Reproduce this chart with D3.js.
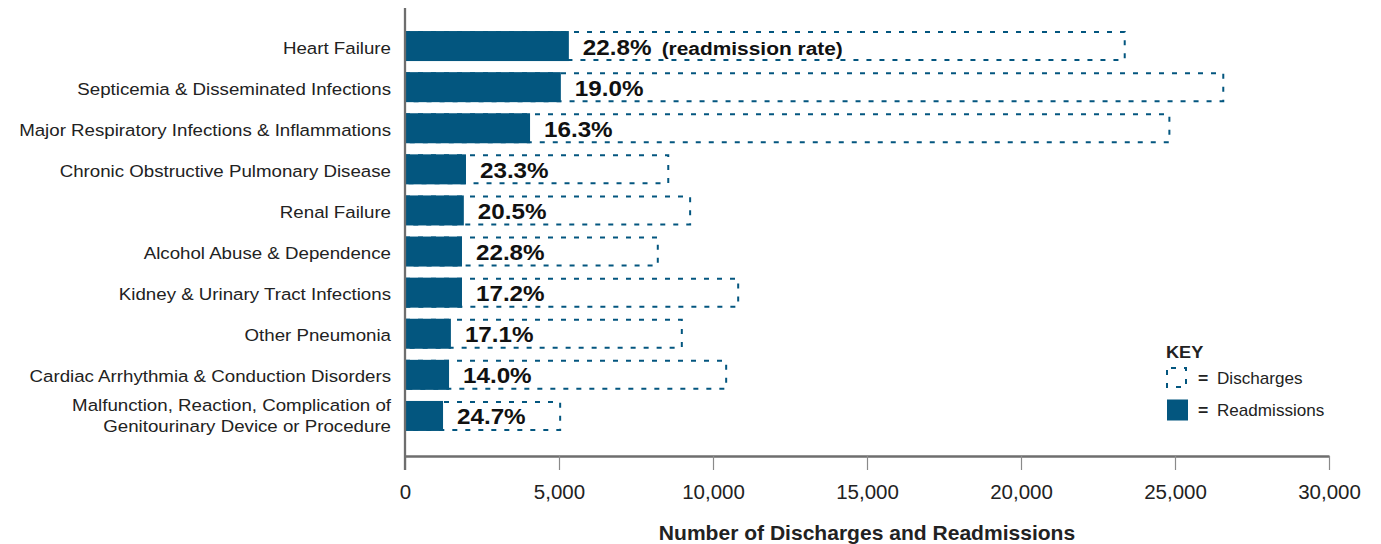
<!DOCTYPE html>
<html>
<head>
<meta charset="utf-8">
<script src="https://cdn.jsdelivr.net/npm/d3@7/dist/d3.min.js"></script>
<style>
  html, body { margin: 0; padding: 0; background: #ffffff; }
  svg { display: block; font-family: "Liberation Sans", Arial, Helvetica, sans-serif; }
</style>
</head>
<body>
<svg id="chart" width="1381" height="544"></svg>
<script>
// ---- data ----
const categories = [
  "Heart Failure",
  "Septicemia & Disseminated Infections",
  "Major Respiratory Infections & Inflammations",
  "Chronic Obstructive Pulmonary Disease",
  "Renal Failure",
  "Alcohol Abuse & Dependence",
  "Kidney & Urinary Tract Infections",
  "Other Pneumonia",
  "Cardiac Arrhythmia & Conduction Disorders",
  "Malfunction, Reaction, Complication of|Genitourinary Device or Procedure"
];
const discharges   = [23400, 26600, 24850, 8580, 9290, 8240, 10850, 9020, 10460, 5070];
const readmissions = [5320, 5060, 4060, 1980, 1910, 1850, 1850, 1490, 1430, 1235];
const rates        = ["22.8%", "19.0%", "16.3%", "23.3%", "20.5%", "22.8%", "17.2%", "17.1%", "14.0%", "24.7%"];
const rateNote     = "(readmission rate)";
const xTicks       = [0, 5000, 10000, 15000, 20000, 25000, 30000];
const xTitle       = "Number of Discharges and Readmissions";
const legendTitle  = "KEY";
const legendItems  = ["Discharges", "Readmissions"];

// ---- layout ----
const BLUE = "#03567f";
const AXIS = "#6e6e6e";
const SX = 1.1; // horizontal text stretch

const svg = d3.select("#chart");
const x = d3.scaleLinear().domain([0, 30000]).range([405, 1329]);
const y = d3.scaleBand().domain(categories).range([25.5, 436.5]).paddingInner(0.27).paddingOuter(0.135);
const bw = y.bandwidth();

const rows = categories.map((c, i) => ({ c, d: discharges[i], r: readmissions[i], rate: rates[i], i }));

// discharge boxes (dashed)
svg.append("g").selectAll("rect").data(rows).join("rect")
  .attr("x", x(0))
  .attr("y", d => y(d.c) + 1)
  .attr("width", d => x(d.d) - x(0) - 1)
  .attr("height", bw - 2)
  .attr("fill", "none")
  .attr("stroke", BLUE)
  .attr("stroke-width", 2)
  .attr("stroke-dasharray", "5,8");

// readmission bars
svg.append("g").selectAll("rect").data(rows).join("rect")
  .attr("x", x(0))
  .attr("y", d => y(d.c))
  .attr("width", d => x(d.r) - x(0))
  .attr("height", bw)
  .attr("fill", BLUE);

// rate labels
const lab = svg.append("g").selectAll("text").data(rows).join("text")
  .attr("transform", d => `translate(${x(d.r) + 14},${y(d.c) + bw / 2 + 8.5}) scale(${SX},1)`)
  .attr("font-size", 22)
  .attr("font-weight", "bold")
  .attr("fill", "#111");
lab.append("tspan").text(d => d.rate);
lab.filter(d => d.i === 0).append("tspan")
  .attr("font-size", 19)
  .attr("dx", 4)
  .text(" " + rateNote);

// left category axis
const yAxis = svg.append("g").attr("transform", `translate(${x(0)},0)`)
  .call(d3.axisLeft(y).tickSize(0).tickPadding(0));
yAxis.select(".domain").remove();
yAxis.selectAll(".tick text").each(function(d) {
  const t = d3.select(this);
  const parts = d.split("|");
  t.text(null)
    .attr("x", null).attr("dy", null)
    .attr("text-anchor", "end")
    .attr("font-size", 17)
    .attr("font-family", "'Liberation Sans', Arial, sans-serif")
    .attr("fill", "#222")
    .attr("transform", `translate(-14,0) scale(${SX},1)`);
  if (parts.length === 1) {
    t.append("tspan").attr("x", 0).attr("y", 7.5).text(parts[0]);
  } else {
    t.append("tspan").attr("x", 0).attr("y", -5).text(parts[0]);
    t.append("tspan").attr("x", 0).attr("y", 16).text(parts[1]);
  }
});

// bottom axis
const xAxis = svg.append("g").attr("transform", "translate(0,456)")
  .call(d3.axisBottom(x).tickValues(xTicks).tickSize(14).tickSizeOuter(0).tickFormat(d3.format(",")));
xAxis.select(".domain").attr("stroke", AXIS).attr("stroke-width", 2.3);
xAxis.selectAll(".tick line").attr("stroke", "#8a8a8a").attr("stroke-width", 1.2);
xAxis.selectAll(".tick text")
  .attr("y", 43).attr("dy", null)
  .attr("font-size", 20.5)
  .attr("font-family", "'Liberation Sans', Arial, sans-serif")
  .attr("fill", "#222");

// left axis line
svg.append("line")
  .attr("x1", x(0)).attr("x2", x(0))
  .attr("y1", 8).attr("y2", 470)
  .attr("stroke", AXIS).attr("stroke-width", 2.3);

// axis title
svg.append("text")
  .attr("transform", `translate(${(x(0) + x(30000)) / 2},540) scale(1.08,1)`)
  .attr("text-anchor", "middle")
  .attr("font-size", 19.5)
  .attr("font-weight", "bold")
  .attr("fill", "#222")
  .text(xTitle);

// legend
const lg = svg.append("g");
lg.append("text")
  .attr("transform", `translate(1166,358) scale(${SX},1)`)
  .attr("font-size", 16.5).attr("font-weight", "bold").attr("fill", "#222")
  .text(legendTitle);
lg.append("rect")
  .attr("x", 1167).attr("y", 368).attr("width", 19).attr("height", 19)
  .attr("fill", "none").attr("stroke", BLUE).attr("stroke-width", 2)
  .attr("stroke-dasharray", "5,8").attr("stroke-dashoffset", -4);
lg.append("rect")
  .attr("x", 1167).attr("y", 399.5).attr("width", 21).attr("height", 21)
  .attr("fill", BLUE);
lg.selectAll("text.eq").data(legendItems).join("text")
  .attr("class", "eq")
  .attr("transform", (d, i) => `translate(1198,${384 + i * 31.5}) scale(${SX},1)`)
  .attr("font-size", 16).attr("font-weight", "bold").attr("fill", "#222")
  .text("=");
lg.selectAll("text.item").data(legendItems).join("text")
  .attr("class", "item")
  .attr("transform", (d, i) => `translate(1217,${384 + i * 31.5}) scale(1.07,1)`)
  .attr("font-size", 16).attr("fill", "#222")
  .text(d => d);
</script>
</body>
</html>
